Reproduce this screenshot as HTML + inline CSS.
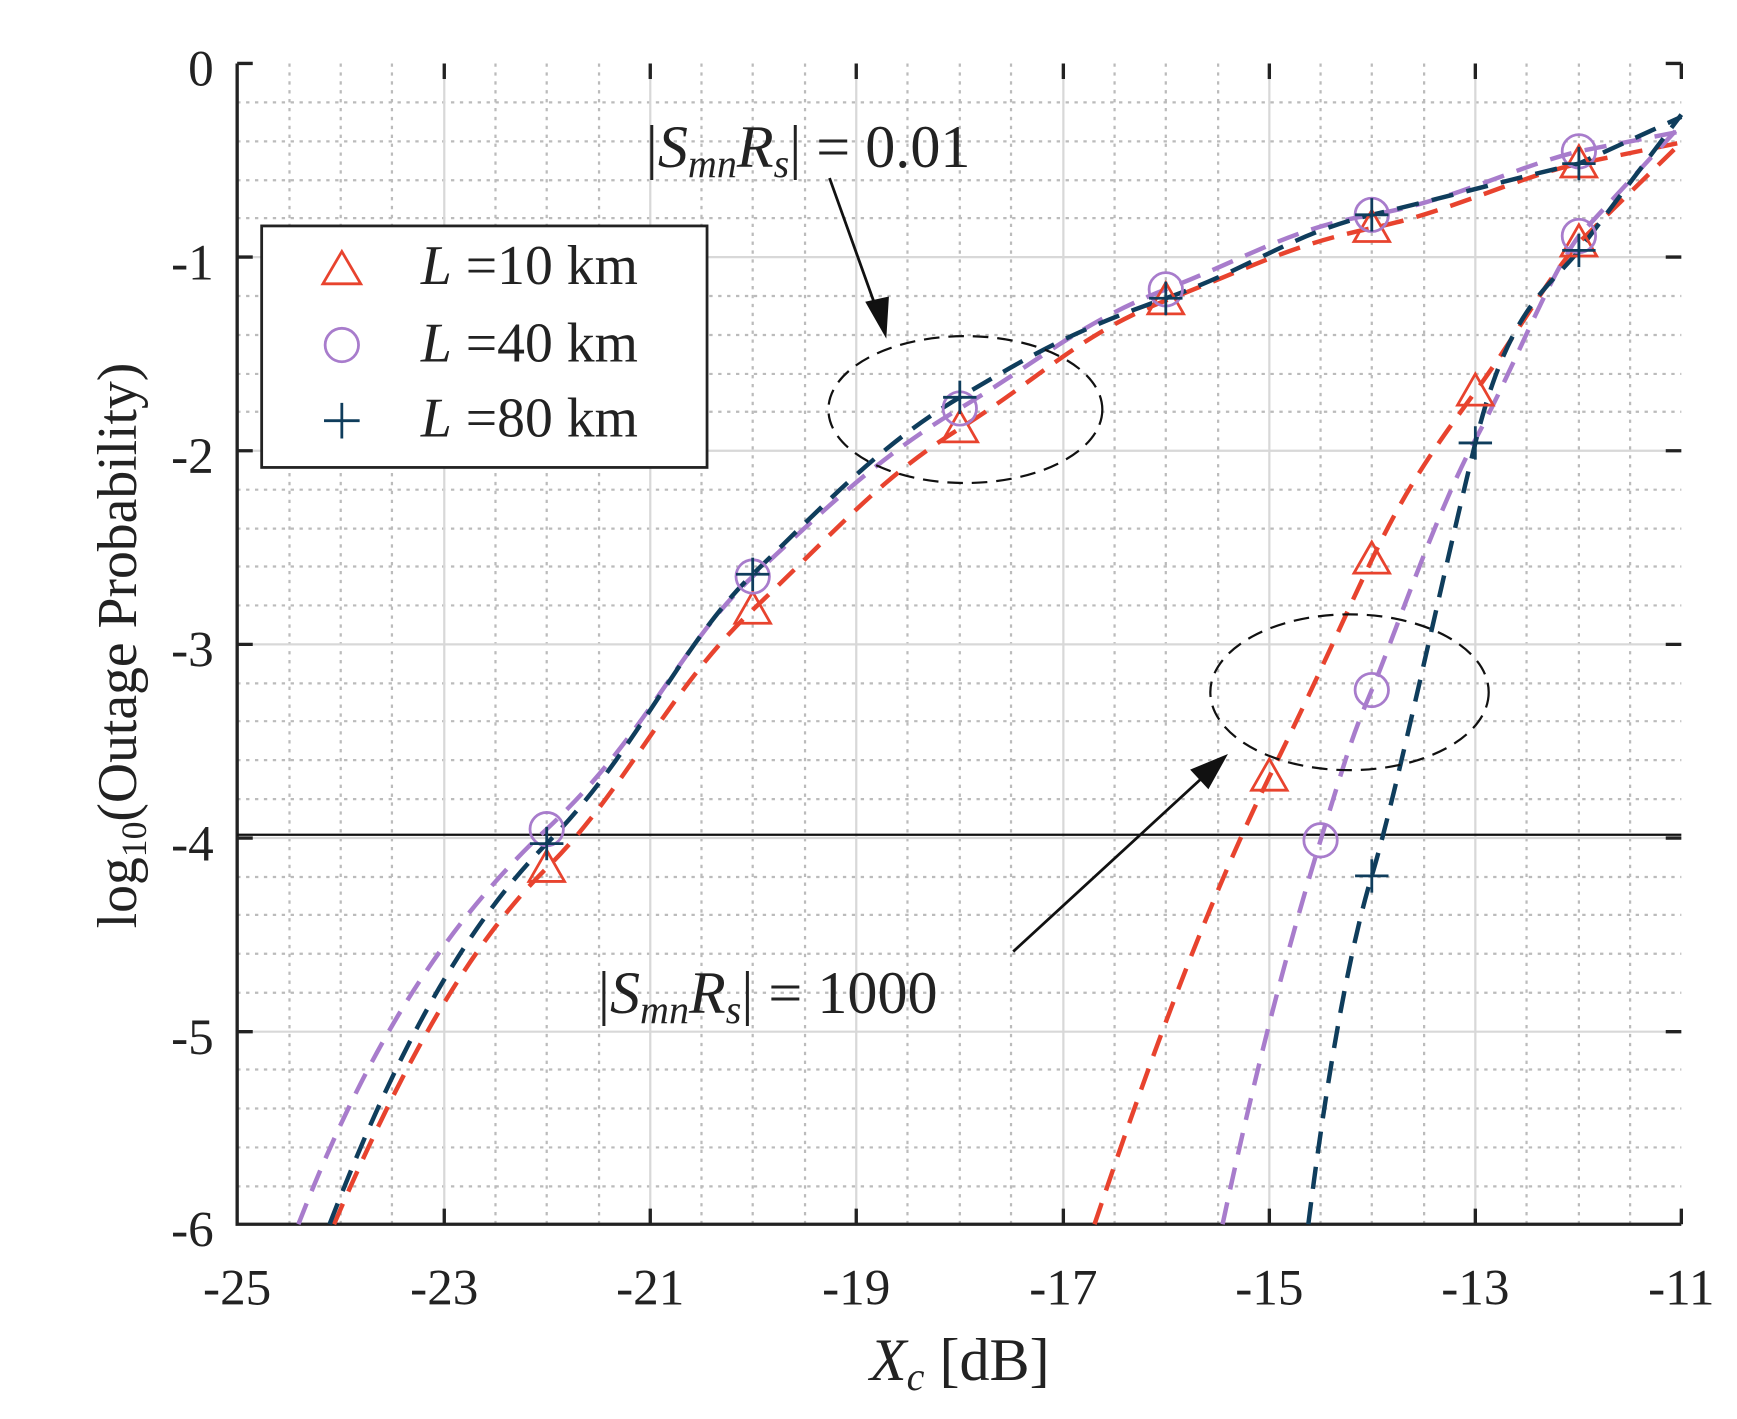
<!DOCTYPE html>
<html><head><style>body{margin:0;background:#fff}svg{display:block}</style></head><body>
<svg width="1737" height="1419" viewBox="0 0 1560 1275" preserveAspectRatio="none" xmlns="http://www.w3.org/2000/svg" font-family="Liberation Serif, serif">
<rect width="1560" height="1275" fill="#fff"/>
<g stroke="#bbb" stroke-width="2" stroke-dasharray="3,5">
<path d="M260 57V1100M306 57V1100M352 57V1100M445 57V1100M491 57V1100M538 57V1100M630 57V1100M676 57V1100M723 57V1100M815 57V1100M862 57V1100M908 57V1100M1001 57V1100M1047 57V1100M1094 57V1100M1186 57V1100M1232 57V1100M1279 57V1100M1371 57V1100M1418 57V1100M1464 57V1100"/>
<path d="M213 92H1510M213 127H1510M213 162H1510M213 196H1510M213 266H1510M213 301H1510M213 336H1510M213 370H1510M213 440H1510M213 475H1510M213 509H1510M213 544H1510M213 614H1510M213 648H1510M213 683H1510M213 718H1510M213 788H1510M213 822H1510M213 857H1510M213 892H1510M213 961H1510M213 996H1510M213 1031H1510M213 1066H1510"/>
</g>
<g stroke="#d8d8d8" stroke-width="2">
<path d="M399 57V1100M584 57V1100M769 57V1100M955 57V1100M1140 57V1100M1325 57V1100"/>
<path d="M213 231H1510M213 405H1510M213 579H1510M213 753H1510M213 927H1510"/>
</g>
<g stroke="#222" stroke-width="3" fill="none">
<path d="M213 57V1100H1510"/>
<path d="M399 1100v-14M584 1100v-14M769 1100v-14M955 1100v-14M1140 1100v-14M1325 1100v-14M1510 1100v-14M399 57v14M584 57v14M769 57v14M955 57v14M1140 57v14M1325 57v14M1510 57v14M213 57h14M213 231h14M213 405h14M213 579h14M213 753h14M213 927h14M1510 57h-14M1510 231h-14M1510 405h-14M1510 579h-14M1510 753h-14M1510 927h-14"/>
</g>
<line x1="213" y1="750" x2="1510" y2="750" stroke="#111" stroke-width="2"/>
<g fill="none" stroke-width="4" stroke-dasharray="20,12">
<path stroke="#e8432e" d="M300 1100 C360 960 420 850 491 780 S600 620 676 548 S790 430 862 385 S970 300 1047 270 S1160 220 1232 205 S1360 160 1418 147 L1510 128"/>
<path stroke="#a87ccc" d="M268 1100 C330 940 400 830 491 745 S610 580 676 518 S790 410 862 367 S970 290 1047 260 S1160 205 1232 193 S1360 150 1418 136 L1510 118"/>
<path stroke="#0f3d5c" d="M296 1100 C350 960 410 840 491 758 S610 580 676 516 S790 400 862 357 S970 295 1047 268 S1160 210 1232 193 S1360 160 1418 147 L1510 105"/>
<path stroke="#e8432e" d="M983 1100 C1040 930 1090 800 1140 698 S1200 570 1232 503 S1290 400 1325 352 S1390 250 1418 218 L1510 128"/>
<path stroke="#a87ccc" d="M1098 1100 C1130 950 1160 840 1186 755 S1215 660 1232 620 S1290 460 1325 395 S1390 250 1418 212 L1510 112"/>
<path stroke="#0f3d5c" d="M1175 1100 C1190 980 1210 860 1232 787 S1295 520 1325 398 S1390 260 1418 225 L1510 103"/>
</g>
<g fill="none" stroke-width="2.5">
<g stroke="#e8432e">
<path d="M491 764l-16 28h32z M676 532l-16 28h32z M862 369l-16 28h32z M1047 254l-16 28h32z M1232 189l-16 28h32z M1418 131l-16 28h32z M1140 682l-16 28h32z M1232 487l-16 28h32z M1325 336l-16 28h32z M1418 202l-16 28h32z"/>
</g>
<g stroke="#a87ccc">
<circle cx="491" cy="745" r="15"/><circle cx="676" cy="518" r="15"/><circle cx="862" cy="367" r="15"/><circle cx="1047" cy="260" r="15"/><circle cx="1232" cy="193" r="15"/><circle cx="1418" cy="136" r="15"/><circle cx="1186" cy="755" r="15"/><circle cx="1232" cy="620" r="15"/><circle cx="1418" cy="212" r="15"/>
</g>
<g stroke="#0f3d5c">
<path d="M476 758h30M491 743v30M661 516h30M676 501v30M847 357h30M862 342v30M1032 268h30M1047 253v30M1217 193h30M1232 178v30M1403 147h30M1418 132v30M1217 787h30M1232 772v30M1310 398h30M1325 383v30M1403 225h30M1418 210v30"/>
</g>
</g>
<g fill="none" stroke="#111" stroke-width="2" stroke-dasharray="14,8">
<ellipse cx="867" cy="368" rx="123" ry="66"/>
<ellipse cx="1212" cy="622" rx="125" ry="70"/>
</g>
<g stroke="#111" stroke-width="2.5" fill="#111">
<line x1="745" y1="160" x2="788" y2="280"/>
<path d="M795 300l-16-28 18-4z"/>
<line x1="910" y1="855" x2="1085" y2="694"/>
<path d="M1100 680l-29 12 14 15z"/>
</g>
<g font-size="54" fill="#222">
<text x="580" y="150">|<tspan font-style="italic">S</tspan><tspan font-style="italic" font-size="36" dy="9">mn</tspan><tspan font-style="italic" dy="-9">R</tspan><tspan font-style="italic" font-size="36" dy="9">s</tspan><tspan dy="-9">| = 0.01</tspan></text>
<text x="537" y="910">|<tspan font-style="italic">S</tspan><tspan font-style="italic" font-size="36" dy="9">mn</tspan><tspan font-style="italic" dy="-9">R</tspan><tspan font-style="italic" font-size="36" dy="9">s</tspan><tspan dy="-9">| = 1000</tspan></text>
</g>
<rect x="235" y="203" width="400" height="217" fill="#fff" stroke="#222" stroke-width="2.5"/>
<g fill="none" stroke-width="2.5">
<path stroke="#e8432e" d="M307 226l-17 29h34z"/>
<circle stroke="#a87ccc" cx="307" cy="310" r="15"/>
<path stroke="#0f3d5c" d="M291 378h32M307 362v32"/>
</g>
<g font-size="50" fill="#222">
<text x="378" y="255"><tspan font-style="italic">L</tspan> =10 km</text>
<text x="378" y="325"><tspan font-style="italic">L</tspan> =40 km</text>
<text x="378" y="392"><tspan font-style="italic">L</tspan> =80 km</text>
</g>
<g font-size="46" fill="#222" text-anchor="end">
<text x="192" y="77">0</text><text x="192" y="251">-1</text><text x="192" y="425">-2</text><text x="192" y="599">-3</text><text x="192" y="773">-4</text><text x="192" y="947">-5</text><text x="192" y="1120">-6</text>
</g>
<g font-size="46" fill="#222" text-anchor="middle">
<text x="213" y="1172">-25</text><text x="399" y="1172">-23</text><text x="584" y="1172">-21</text><text x="769" y="1172">-19</text><text x="955" y="1172">-17</text><text x="1140" y="1172">-15</text><text x="1325" y="1172">-13</text><text x="1510" y="1172">-11</text>
<text x="862" y="1240" font-size="54"><tspan font-style="italic">X</tspan><tspan font-style="italic" font-size="36" dy="9">c</tspan><tspan dy="-9"> [dB]</tspan></text>
</g>
<text transform="translate(122,580) rotate(-90)" text-anchor="middle" font-size="50" fill="#222">log<tspan font-size="32" dy="9">10</tspan><tspan dy="-9">(Outage Probability)</tspan></text>
</svg>
</body></html>
